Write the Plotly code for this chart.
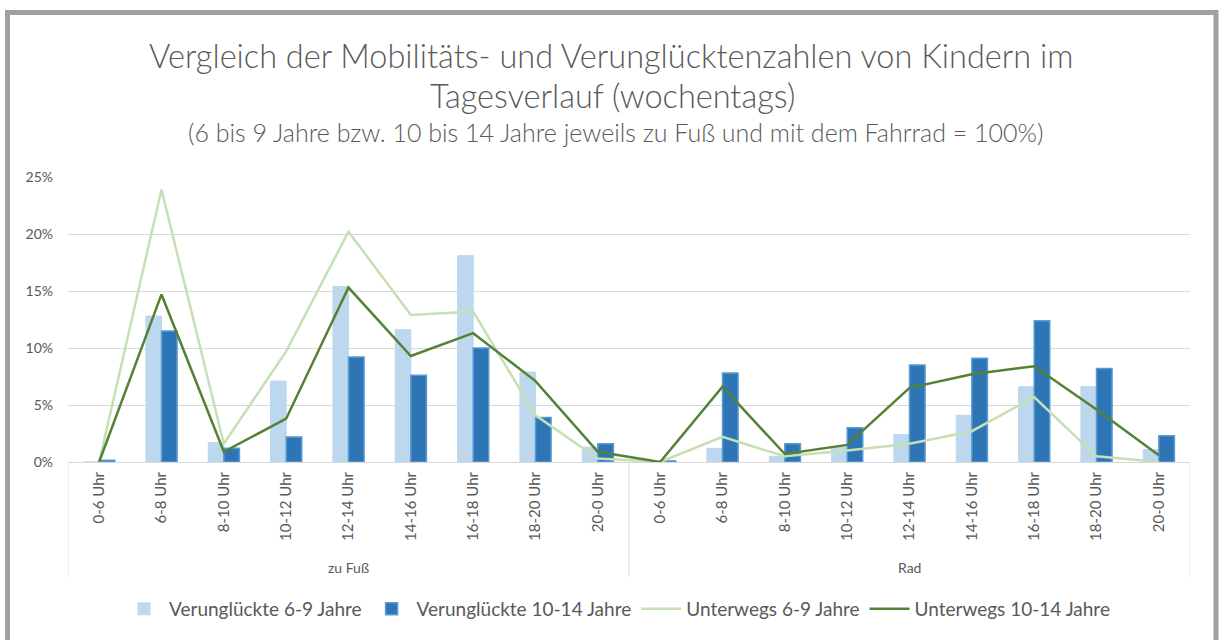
import plotly.graph_objects as go

# ---------------- data ----------------
hours = ["0-6 Uhr", "6-8 Uhr", "8-10 Uhr", "10-12 Uhr", "12-14 Uhr",
         "14-16 Uhr", "16-18 Uhr", "18-20 Uhr", "20-0 Uhr"]
groups = ["zu Fuß", "Rad"]

verunglueckte_6_9 = [0.0, 12.8, 1.7, 7.1, 15.4, 11.6, 18.1, 7.9, 1.3,
                     0.0, 1.2, 0.5, 1.3, 2.4, 4.1, 6.6, 6.6, 1.1]
verunglueckte_10_14 = [0.15, 11.5, 1.2, 2.2, 9.2, 7.6, 10.0, 3.9, 1.6,
                       0.1, 7.8, 1.6, 3.0, 8.5, 9.1, 12.4, 8.2, 2.3]
unterwegs_6_9 = [0.0, 23.9, 1.6, 9.7, 20.2, 12.9, 13.2, 4.1, 0.3,
                 0.0, 2.2, 0.5, 1.0, 1.6, 2.7, 5.7, 0.5, 0.0]
unterwegs_10_14 = [0.0, 14.7, 0.9, 3.8, 15.3, 9.3, 11.3, 7.1, 0.9,
                   0.0, 6.6, 0.7, 1.5, 6.5, 7.7, 8.4, 4.6, 0.6]

title_line1 = "Vergleich der Mobilitäts- und Verunglücktenzahlen von Kindern im"
title_line2 = "Tagesverlauf (wochentags)"
subtitle = "(6 bis 9 Jahre bzw. 10 bis 14 Jahre jeweils zu Fuß und mit dem Fahrrad = 100%)"

# ---------------- derived ----------------
tick_labels = hours * len(groups)
x_idx = list(range(len(tick_labels)))
n_per_group = len(hours)

FONT = "Lato"
GRAY = "#595959"

W, H = 1223, 640
ML, MR, MT, MB = 68, 33, 177, 178
plot_h = H - MT - MB
plot_w = W - ML - MR


def py(pix):
    """pixel y (from top) -> paper y"""
    return (H - MB - pix) / plot_h


def px(pix):
    return (pix - ML) / plot_w


fig = go.Figure()
fig.add_trace(go.Bar(
    x=x_idx, y=verunglueckte_6_9, name="Verunglückte 6-9 Jahre",
    marker=dict(color="#BDD7EE", line=dict(color="#BDD7EE", width=1)),
))
fig.add_trace(go.Bar(
    x=x_idx, y=verunglueckte_10_14, name="Verunglückte 10-14 Jahre",
    marker=dict(color="#2E75B6", line=dict(color="#5B9BD5", width=1.5)),
))
fig.add_trace(go.Scatter(
    x=x_idx, y=unterwegs_6_9, name="Unterwegs 6-9 Jahre", mode="lines",
    line=dict(color="#C5E0B4", width=2.5),
))
fig.add_trace(go.Scatter(
    x=x_idx, y=unterwegs_10_14, name="Unterwegs 10-14 Jahre", mode="lines",
    line=dict(color="#548235", width=2.5),
))

shapes = []
# group dividers
for g in range(len(groups) + 1):
    xpos = g * n_per_group - 0.5
    shapes.append(dict(type="line", xref="x", yref="paper",
                       x0=xpos, x1=xpos, y0=0, y1=py(577),
                       line=dict(color="#D9D9D9", width=1)))
# outer frame
shapes.append(dict(type="rect", xref="paper", yref="paper",
                   x0=px(7.5), x1=px(1216), y0=py(760), y1=py(12.5),
                   line=dict(color="#A0A0A0", width=5), fillcolor="rgba(0,0,0,0)",
                   layer="above"))

annotations = [
    dict(text=title_line1, x=px(611), xref="paper", y=py(55), yref="paper",
         showarrow=False, font=dict(family=FONT, size=32.5, color=GRAY, weight=300),
         xanchor="center", yanchor="middle"),
    dict(text=title_line2, x=px(612), xref="paper", y=py(95), yref="paper",
         showarrow=False, font=dict(family=FONT, size=32.5, color=GRAY, weight=300),
         xanchor="center", yanchor="middle"),
    dict(text=subtitle, x=px(615), xref="paper", y=py(132), yref="paper",
         showarrow=False, font=dict(family=FONT, size=25, color=GRAY, weight=300),
         xanchor="center", yanchor="middle"),
]
for gi, gname in enumerate(groups):
    center = gi * n_per_group + (n_per_group - 1) / 2
    annotations.append(dict(text=gname, x=center, xref="x", y=py(567), yref="paper",
                            showarrow=False,
                            font=dict(family=FONT, size=14, color=GRAY),
                            xanchor="center", yanchor="middle"))

fig.update_layout(
    width=W, height=H,
    margin=dict(l=ML, r=MR, t=MT, b=MB),
    paper_bgcolor="white", plot_bgcolor="white",
    barmode="group", bargap=0.5, bargroupgap=0,
    font=dict(family=FONT, color=GRAY),
    showlegend=True,
    legend=dict(orientation="h", x=px(617), xanchor="center", y=py(609),
                yanchor="middle", font=dict(family=FONT, size=19, color=GRAY),
                itemwidth=40, traceorder="normal"),
    shapes=shapes,
    annotations=annotations,
)
fig.update_xaxes(
    range=[-0.5, len(tick_labels) - 0.5],
    tickmode="array", tickvals=x_idx, ticktext=tick_labels,
    tickangle=-90, tickfont=dict(family=FONT, size=15, color=GRAY),
    showgrid=False, zeroline=False, showline=False, ticks="",
    ticklabelstandoff=6,
)
fig.update_yaxes(
    range=[0, 25], dtick=5, ticksuffix="%",
    tickfont=dict(family=FONT, size=14, color=GRAY),
    showgrid=True, gridcolor="#D9D9D9", gridwidth=1,
    zeroline=True, zerolinecolor="#D9D9D9", zerolinewidth=1,
    showline=False, ticks="", ticklabelstandoff=14,
)

fig.write_html(
    "out.html",
    config={"displayModeBar": False},
    post_script="document.body.style.margin='0';document.body.style.overflow='hidden';",
)
